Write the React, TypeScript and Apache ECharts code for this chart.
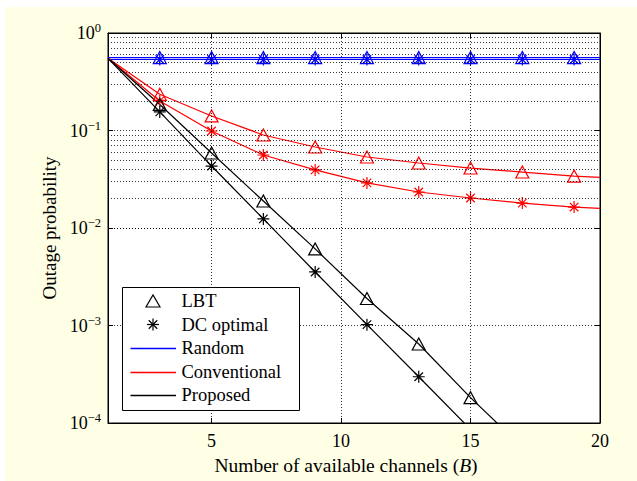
import React, { useEffect, useRef } from 'react';
import * as echarts from 'echarts';

const FONT = '"Liberation Serif", "Times New Roman", serif';

// x positions of the computed points (B)
const xValues = [1, 3, 5, 7, 9, 11, 13, 15, 17, 19, 20];
// Random scheme
const randomLBT = [0.56, 0.56, 0.56, 0.56, 0.56, 0.56, 0.56, 0.56, 0.56, 0.56, 0.56];
const randomDC = [0.535, 0.535, 0.535, 0.535, 0.535, 0.535, 0.535, 0.535, 0.535, 0.535, 0.535];
// Conventional scheme
const convLBT = [0.55, 0.235, 0.141, 0.09, 0.0677, 0.0535, 0.0464, 0.0412, 0.0375, 0.0341, 0.033];
const convDC = [0.55, 0.201, 0.0988, 0.0561, 0.0394, 0.029, 0.0234, 0.0203, 0.018, 0.0164, 0.0159];
// Proposed scheme
const propLBT = [0.55, 0.185, 0.0588, 0.0189, 0.0061, 0.00189, 0.000646, 0.000182, 0.0000565];
const propDC = [0.55, 0.155, 0.0432, 0.0124, 0.00354, 0.00102, 0.000298, 0.000086];

const xTicks = [5, 10, 15, 20];
const xGridValues = [5, 10, 15];
const yTicks = [1e-4, 1e-3, 1e-2, 1e-1, 1];
const minorMultipliers = [2, 3, 4, 5, 6, 7, 8, 9];
const minorDecades = [1e-4, 1e-3, 1e-2, 1e-1];

const legendMarkers = ['LBT', 'DC optimal'];
const legendLines = ['Random', 'Conventional', 'Proposed'];

const STAR = 'path://M0,-10L0,10M-10,0L10,0M-7.07,-7.07L7.07,7.07M-7.07,7.07L7.07,-7.07';

const BLUE = '#0000ff';
const RED = '#ff0000';
const BLACK = '#000000';
const lineColors = [BLUE, RED, BLACK];

function buildData(vals: number[]) {
  return vals.map((v, i) => {
    const x = xValues[i];
    const hide = x === 1 || x === 20 || v < 1e-4;
    return hide ? { value: [x, v], symbol: 'none' } : { value: [x, v] };
  });
}

function dataSeries(name: string, vals: number[], color: string, marker: string) {
  const isTri = marker === 'triangle';
  return {
    name,
    type: 'line',
    data: buildData(vals),
    symbol: marker,
    symbolSize: isTri ? [13, 12] : 12,
    showSymbol: true,
    clip: true,
    z: 3,
    lineStyle: { color, width: 1.2 },
    itemStyle: { color: 'transparent', borderColor: color, borderWidth: 1.2 },
    emphasis: { disabled: true },
  };
}

const minorGrid: number[] = [];
minorDecades.forEach((d) => minorMultipliers.forEach((m) => minorGrid.push(m * d)));

function buildLegend() {
  const boxX = 117.5;
  const boxY = 280.5;
  const rowY0 = 294;
  const rowStep = 23.5;
  const iconX = 148;
  const lineX1 = 125.5;
  const lineX2 = 171;
  const textX = 176.5;
  const els: any[] = [
    {
      type: 'rect',
      shape: { x: boxX, y: boxY, width: 177, height: 123 },
      style: { fill: '#ffffff', stroke: '#000000', lineWidth: 1 },
      z: 100,
    },
  ];
  const labels = [...legendMarkers, ...legendLines];
  labels.forEach((t, i) => {
    els.push({
      type: 'text',
      x: textX,
      y: rowY0 + i * rowStep,
      style: { text: t, fill: '#000000', font: '18.5px ' + FONT, verticalAlign: 'middle' },
      z: 101,
    });
  });
  // triangle marker
  const ty = rowY0;
  els.push({
    type: 'polygon',
    shape: { points: [[iconX - 7, ty + 6], [iconX + 7, ty + 6], [iconX, ty - 6]] },
    style: { fill: 'none', stroke: BLACK, lineWidth: 1.2 },
    z: 101,
  });
  // asterisk marker
  const sy = rowY0 + rowStep;
  const r = 6;
  const d = r * 0.707;
  [
    [0, -r, 0, r],
    [-r, 0, r, 0],
    [-d, -d, d, d],
    [-d, d, d, -d],
  ].forEach((s) => {
    els.push({
      type: 'line',
      shape: { x1: iconX + s[0], y1: sy + s[1], x2: iconX + s[2], y2: sy + s[3] },
      style: { stroke: BLACK, lineWidth: 1.2 },
      z: 101,
    });
  });
  legendLines.forEach((_, i) => {
    const y = Math.round(rowY0 + (i + 2) * rowStep) + 0.5;
    els.push({
      type: 'line',
      shape: { x1: lineX1, y1: y, x2: lineX2, y2: y },
      style: { stroke: lineColors[i], lineWidth: 1.3 },
      z: 102,
    });
  });
  return els;
}

export default function App() {
  const ref = useRef<HTMLDivElement>(null);
  useEffect(() => {
    const chart = echarts.init(ref.current!, null, { renderer: 'svg' });
    const gridLine = { color: '#000', width: 0.8, type: [1, 2] };
    const option: any = {
      animation: false,
      backgroundColor: '#FFFFE5',
      grid: {
        left: 103,
        top: 26,
        width: 492,
        height: 390,
        show: true,
        backgroundColor: '#ffffff',
        borderColor: '#000',
        borderWidth: 1,
      },
      xAxis: [
        {
          type: 'value',
          min: 1,
          max: 20,
          position: 'bottom',
          axisLine: { show: true, lineStyle: { color: '#000', width: 1 } },
          axisTick: { show: true, inside: true, length: 5, customValues: xTicks, lineStyle: { color: '#000' } },
          axisLabel: {
            customValues: xTicks,
            color: '#000',
            fontFamily: FONT,
            fontSize: 18,
            margin: 9,
          },
          splitLine: { show: false },
          name: 'Number of available channels ({i|B})',
          nameLocation: 'middle',
          nameGap: 32,
          nameTextStyle: {
            color: '#000',
            fontFamily: FONT,
            fontSize: 19.5,
            padding: [0, 16, 0, 0],
            rich: { i: { fontFamily: FONT, fontSize: 19.5, fontStyle: 'italic', color: '#000' } },
          },
        },
        {
          type: 'value',
          min: 1,
          max: 20,
          position: 'top',
          axisLine: { show: true, lineStyle: { color: '#000', width: 1 } },
          axisTick: { show: true, inside: true, length: 5, customValues: xTicks, lineStyle: { color: '#000' } },
          axisLabel: { show: false },
          splitLine: { show: false },
        },
      ],
      yAxis: [
        {
          type: 'log',
          logBase: 10,
          min: 1e-4,
          max: 1,
          position: 'left',
          axisLine: { show: true, lineStyle: { color: '#000', width: 1 } },
          axisTick: { show: true, inside: true, length: 5, customValues: yTicks, lineStyle: { color: '#000' } },
          axisLabel: {
            customValues: yTicks,
            margin: 7,
            formatter: (v: number) => {
              const e = Math.round(Math.log10(v));
              const s = e < 0 ? '\u2212' + -e : String(e);
              return '{b|10}{s|' + s + '}';
            },
            rich: {
              b: { fontFamily: FONT, fontSize: 18, color: '#000' },
              s: { fontFamily: FONT, fontSize: 12.5, color: '#000', verticalAlign: 'top', padding: [0, 0, 10, 0] },
            },
          },
          splitLine: { show: true, lineStyle: gridLine },
          name: 'Outage probability',
          nameLocation: 'middle',
          nameGap: 48,
          nameTextStyle: { color: '#000', fontFamily: FONT, fontSize: 19 },
        },
        {
          type: 'log',
          logBase: 10,
          min: 1e-4,
          max: 1,
          position: 'right',
          axisLine: { show: true, lineStyle: { color: '#000', width: 1 } },
          axisTick: { show: true, inside: true, length: 5, customValues: yTicks, lineStyle: { color: '#000' } },
          axisLabel: { show: false },
          splitLine: { show: false },
        },
      ],
      graphic: buildLegend(),
      series: [
        {
          name: 'grid',
          type: 'line',
          data: [[1, 1]],
          symbol: 'none',
          lineStyle: { width: 0 },
          z: 1,
          silent: true,
          markLine: {
            silent: true,
            symbol: ['none', 'none'],
            label: { show: false },
            lineStyle: gridLine,
            emphasis: { disabled: true },
            data: [
              ...minorGrid.map((v) => ({ yAxis: v })),
              ...xGridValues.map((v) => ({ xAxis: v })),
            ],
          },
        },
        dataSeries('Random LBT', randomLBT, BLUE, 'triangle'),
        dataSeries('Random DC', randomDC, BLUE, STAR),
        dataSeries('Conventional LBT', convLBT, RED, 'triangle'),
        dataSeries('Conventional DC', convDC, RED, STAR),
        dataSeries('Proposed LBT', propLBT, BLACK, 'triangle'),
        dataSeries('Proposed DC', propDC, BLACK, STAR),
      ],
    };
    chart.setOption(option);
    return () => chart.dispose();
  }, []);
  return (
    <div style={{ position: 'absolute', left: 0, top: 0, width: 637, height: 481, background: '#ffffff' }}>
      <div ref={ref} style={{ position: 'absolute', left: 5, top: 7, width: 632, height: 474 }} />
    </div>
  );
}
